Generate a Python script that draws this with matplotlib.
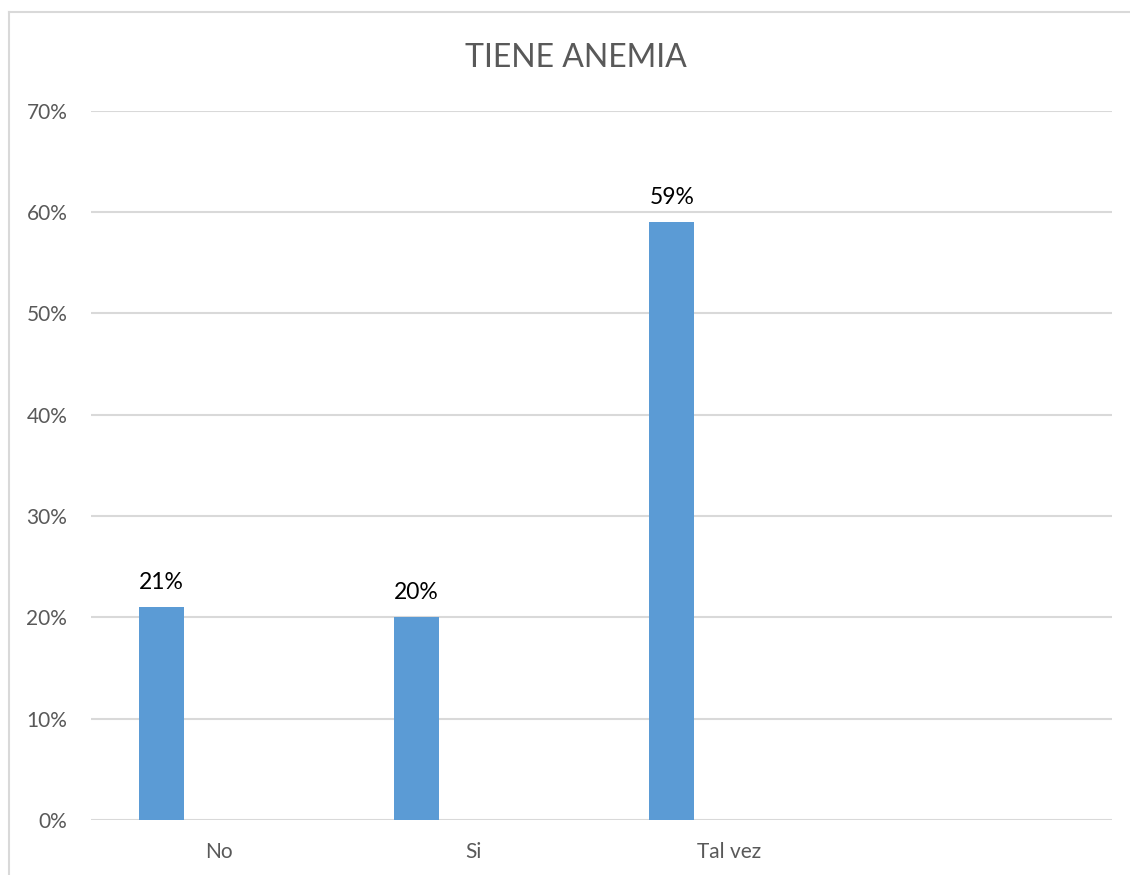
import matplotlib.pyplot as plt
from matplotlib.lines import Line2D
from matplotlib.ticker import PercentFormatter

# --- Data ---
categories = ['No', 'Si', 'Tal vez', '']
values = [21, 20, 59]
y_ticks = [0, 10, 20, 30, 40, 50, 60, 70]

BAR_COLOR = '#5B9BD5'
GRID_COLOR = '#D9D9D9'
TEXT_GRAY = '#595959'

plt.rcParams['font.family'] = ['Lato', 'DejaVu Sans']

fig = plt.figure(figsize=(11.3, 8.75), dpi=100)
fig.patch.set_edgecolor('white')
fig.patch.set_linewidth(0)
ax = fig.add_axes([0.0805, 0.0629, 0.9035, 0.8106])

# chart border: only the left and top edges fall inside the picture
bx, by = 9 / 1130, 1 - 12 / 875
fig.add_artist(Line2D([bx, bx], [0, by], transform=fig.transFigure,
                      color=GRID_COLOR, linewidth=1.5))
fig.add_artist(Line2D([bx, 1.01], [by, by], transform=fig.transFigure,
                      color=GRID_COLOR, linewidth=1.5))

xs = list(range(len(values)))
bar_x = [x - 0.224 for x in xs]
bars = ax.bar(bar_x, values, width=0.176, color=BAR_COLOR, zorder=3)

for b, v in zip(bars, values):
    ax.annotate(f'{v}%', (b.get_x() + b.get_width() / 2, v),
                xytext=(0, 13), textcoords='offset points',
                ha='center', va='baseline', fontsize=16.5, color='black')

ax.set_xlim(-0.5, len(categories) - 0.5)
ax.set_ylim(0, 70)
ax.set_yticks(y_ticks)
ax.yaxis.set_major_formatter(PercentFormatter(decimals=0))
ax.set_xticks(range(len(categories)))
ax.set_xticklabels(categories)

ax.grid(axis='y', color=GRID_COLOR, linewidth=1.5, zorder=0)
ax.set_axisbelow(True)
for s in ax.spines.values():
    s.set_visible(False)
ax.tick_params(axis='y', length=0, pad=17, labelsize=15, labelcolor=TEXT_GRAY)
ax.tick_params(axis='x', length=0, pad=16, labelsize=15, labelcolor=TEXT_GRAY)

fig.text(576 / 1130, 1 - 67 / 875, 'TIENE ANEMIA', ha='center', va='baseline',
         fontsize=23, color=TEXT_GRAY)

fig.savefig('out.png', dpi=100, facecolor='white', edgecolor='white')
